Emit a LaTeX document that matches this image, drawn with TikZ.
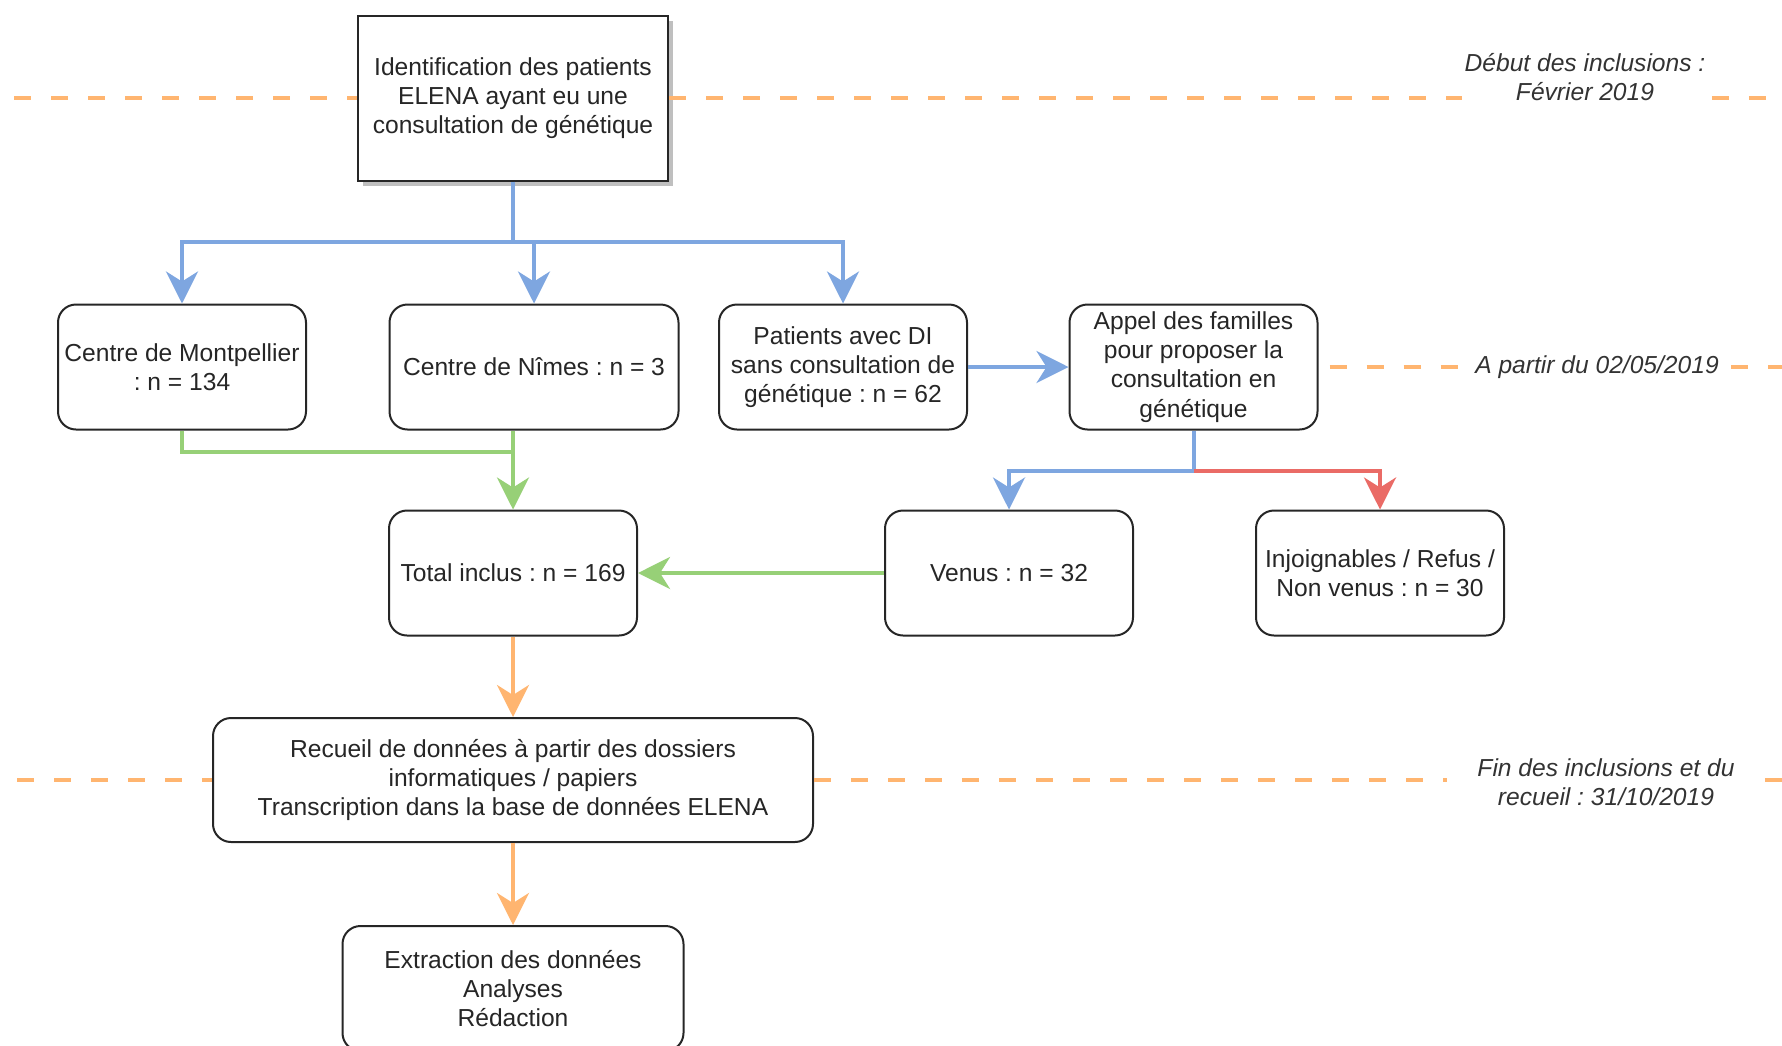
\documentclass[tikz,border=0pt]{standalone}
\usepackage{fontspec}
\setmainfont{Liberation Sans}
\usetikzlibrary{arrows.meta,shadows}
\definecolor{flowblue}{HTML}{7EA6E0}
\definecolor{flowgreen}{HTML}{97D077}
\definecolor{floworange}{HTML}{FFB570}
\definecolor{flowred}{HTML}{EA6B66}
\newcommand\flowsize{\fontsize{12.3}{14.6}\selectfont}
\frenchspacing

\begin{document}
\begin{tikzpicture}[x=0.5pt,y=-0.5pt,font=\flowsize,
  box/.style={draw=black!85,line width=1pt,rounded corners=9pt,fill=white,align=center,
    text=black!85,inner sep=2pt,minimum width=124pt,minimum height=62.5pt},
  link/.style={line width=2pt,-{Stealth[length=16pt,width=16pt,inset=5pt]}},
  timeline/.style={draw=floworange,line width=2.4pt,dash pattern=on 8.5pt off 10pt},
  note/.style={font=\flowsize\itshape,align=center,text=black!80,inner sep=1pt}]
\useasboundingbox (0,0) rectangle (1782,1045);

\node[box,sharp corners,minimum width=155pt,minimum height=82.5pt,
  drop shadow={shadow xshift=2.5pt,shadow yshift=-2.5pt,fill=black!25,opacity=1}]
  (ident) at (513,98) {Identification des patients\\ELENA ayant eu une\\consultation de génétique};
\node[box] (montp) at (182,367) {Centre de Montpellier\\: n = 134};
\node[box,minimum width=144.5pt] (nimes) at (534,367) {Centre de Nîmes : n = 3};
\node[box] (patdi) at (843,367) {Patients avec DI\\sans consultation de\\génétique : n = 62};
\node[box] (appel) at (1193.5,367) {Appel des familles\\pour proposer la\\consultation en\\génétique};
\node[box] (total) at (513,573) {Total inclus : n = 169};
\node[box] (venus) at (1009,573) {Venus : n = 32};
\node[box] (injoi) at (1380,573) {Injoignables / Refus /\\Non venus : n = 30};
\node[box,minimum width=300pt,minimum height=62pt] (recueil) at (513,780)
  {Recueil de données à partir des dossiers\\informatiques / papiers\\Transcription dans la base de données ELENA};
\node[box,minimum width=170.5pt] (extract) at (513,988.5) {Extraction des données\\Analyses\\Rédaction};

% dates
\node[note] (debut) at (1585,77) {Début des inclusions :\\Février 2019};
\node[note] (apartir) at (1597,367) {A partir du 02/05/2019};
\node[note] (fin) at (1606,782) {Fin des inclusions et du\\recueil : 31/10/2019};

\draw[timeline] (14,98) -- (ident.west);
\draw[timeline] (ident.east) -- (debut.west |- ident.east);
\draw[timeline,shorten <=2pt] (debut.east |- ident.east) -- (1782,98);
\draw[timeline,shorten <=5.5pt,shorten >=6pt] (appel.east) -- (apartir.west);
\draw[timeline,shorten <=5pt] (apartir.east) -- (1782,367);
\draw[timeline] (17,780) -- (recueil.west);
\draw[timeline,shorten >=14pt] (recueil.east) -- (fin.west |- recueil.east);
\draw[timeline,shorten <=14pt] (fin.east |- recueil.east) -- (1782,780);

% blue
\coordinate (split) at (513,242);
\draw[flowblue,line width=2pt] (ident) -- (split);
\foreach \n in {montp,nimes,patdi}
  \draw[link,flowblue] (split) -| (\n);
\draw[link,flowblue] (patdi) -- (appel);
\coordinate (callsplit) at ([yshift=-20pt]appel.south);
\draw[flowblue,line width=2pt] (appel) -- (callsplit);
\draw[link,flowblue] (callsplit) -| (venus);
\draw[link,flowred] (callsplit) -| (injoi);

% green
\coordinate (gjoin) at (513,452);
\draw[flowgreen,line width=2pt] (montp) |- (gjoin);
\draw[link,flowgreen] (nimes.south -| total) -- (total);
\draw[link,flowgreen] (venus) -- (total);

% orange
\draw[link,floworange] (total) -- (recueil);
\draw[link,floworange] (recueil) -- (extract);
\end{tikzpicture}
\end{document}
